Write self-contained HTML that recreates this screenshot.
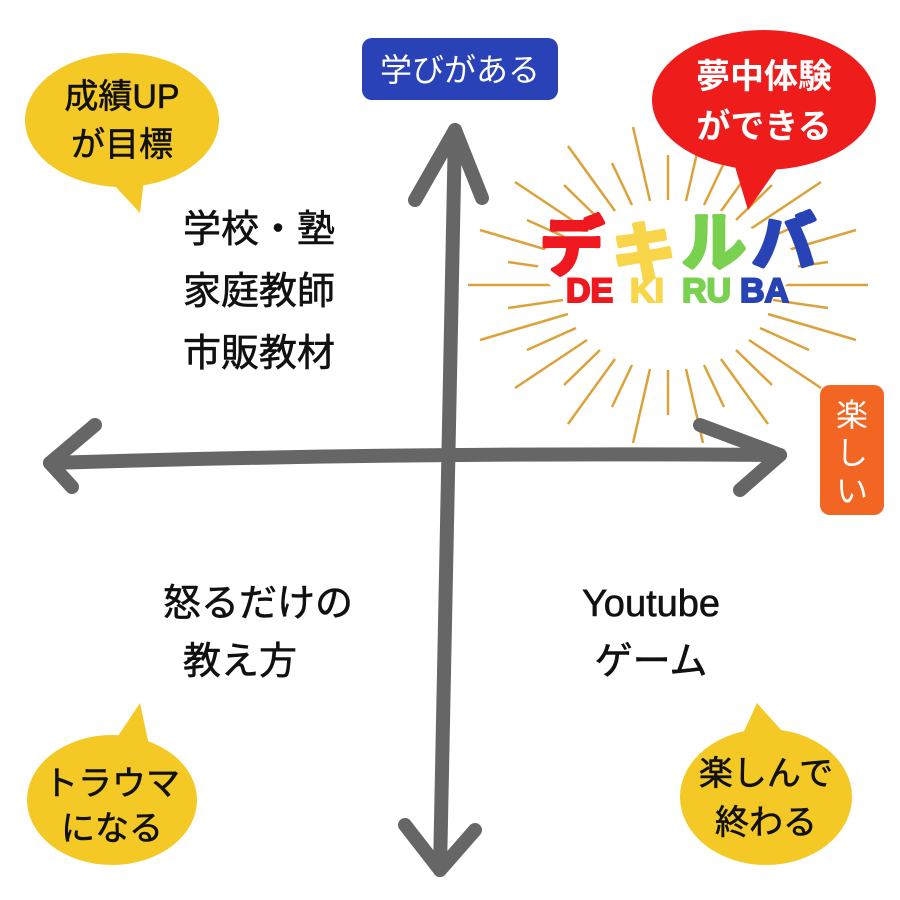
<!DOCTYPE html>
<html><head><meta charset="utf-8"><style>
body{margin:0;width:900px;height:900px;background:#fff;overflow:hidden;font-family:"Liberation Sans","Noto Sans CJK JP",sans-serif}
svg{position:absolute;left:0;top:0}
text{font-family:"Liberation Sans","Noto Sans CJK JP",sans-serif}
</style></head><body>
<svg width="900" height="900" viewBox="0 0 900 900">
<g stroke="#dca23a" stroke-width="2.5">
<line x1="774" y1="285" x2="868" y2="285"/><line x1="773" y1="300" x2="828" y2="308"/><line x1="768" y1="314" x2="856" y2="340"/><line x1="760" y1="328" x2="809" y2="350"/><line x1="749" y1="340" x2="821" y2="388"/><line x1="736" y1="350" x2="772" y2="385"/><line x1="721" y1="359" x2="768" y2="424"/><line x1="704" y1="365" x2="724" y2="407"/><line x1="686" y1="369" x2="703" y2="443"/><line x1="668" y1="370" x2="668" y2="415"/>
<line x1="562" y1="285" x2="468" y2="285"/><line x1="563" y1="300" x2="508" y2="308"/><line x1="568" y1="314" x2="480" y2="340"/><line x1="576" y1="328" x2="527" y2="350"/><line x1="587" y1="340" x2="515" y2="388"/><line x1="600" y1="350" x2="564" y2="385"/><line x1="615" y1="359" x2="568" y2="424"/><line x1="632" y1="365" x2="612" y2="407"/><line x1="650" y1="369" x2="633" y2="443"/>
<line x1="563" y1="270" x2="508" y2="262"/><line x1="568" y1="256" x2="480" y2="230"/><line x1="576" y1="242" x2="527" y2="220"/><line x1="587" y1="230" x2="515" y2="182"/><line x1="600" y1="220" x2="564" y2="185"/><line x1="615" y1="211" x2="568" y2="146"/><line x1="632" y1="205" x2="612" y2="163"/><line x1="650" y1="201" x2="633" y2="127"/><line x1="668" y1="200" x2="668" y2="155"/>
<line x1="773" y1="270" x2="828" y2="262"/><line x1="768" y1="256" x2="856" y2="230"/><line x1="760" y1="242" x2="809" y2="220"/><line x1="749" y1="230" x2="821" y2="182"/><line x1="736" y1="220" x2="772" y2="185"/><line x1="721" y1="211" x2="768" y2="146"/><line x1="704" y1="205" x2="724" y2="163"/><line x1="686" y1="201" x2="703" y2="127"/>
</g>
<ellipse cx="668" cy="265" rx="130" ry="48" fill="#fff"/>
<g font-weight="bold" font-size="64" stroke-width="4" stroke-linejoin="round">
<text x="540" y="270" fill="#f0181f" stroke="#f0181f">デ</text>
<text x="612" y="275" fill="#f9d54a" stroke="#f9d54a">キ</text>
<text x="682" y="265" fill="#7ad150" stroke="#7ad150">ル</text>
<text x="752" y="265" fill="#2743b5" stroke="#2743b5">バ</text>
</g>
<g font-weight="bold" font-size="34" stroke-width="2">
<text x="566" y="302" fill="#f0181f" stroke="#f0181f">DE</text>
<text x="630" y="302" fill="#f9d54a" stroke="#f9d54a">KI</text>
<text x="682" y="302" fill="#7ad150" stroke="#7ad150">RU</text>
<text x="740" y="302" fill="#2743b5" stroke="#2743b5">BA</text>
</g>
<g stroke="#666" stroke-width="14" stroke-linecap="round" stroke-linejoin="round" fill="none">
<path d="M50 463 Q400 452 780 455"/>
<path d="M95 425 L50 463 L72 487"/>
<path d="M700 425 L780 455 L740 490"/>
<path d="M455 130 Q448 500 440 870"/>
<path d="M415 200 L455 130 L482 198"/>
<path d="M405 825 L440 870 L475 830"/>
</g>
<g fill="#f4c926">
<ellipse cx="122" cy="120" rx="97" ry="67"/>
<path d="M100 170 L140 213 L145 170Z"/>
<ellipse cx="112" cy="800" rx="85" ry="65"/>
<path d="M112 745 L140 703 L150 750Z"/>
<ellipse cx="766" cy="797" rx="86" ry="68"/>
<path d="M740 740 L757 703 L790 740Z"/>
</g>
<g fill="#ef1c1c">
<ellipse cx="764" cy="100" rx="112" ry="70"/>
<path d="M730 150 L748 210 L790 150Z"/>
</g>
<rect x="362" y="38" width="196" height="62" rx="10" fill="#2942b8"/>
<rect x="820" y="385" width="64" height="130" rx="10" fill="#f26522"/>
<g font-size="32" text-anchor="middle">
<text x="460" y="81" fill="#fff">学びがある</text>
<text x="852" y="426" fill="#fff">楽</text>
<text x="852" y="464" fill="#fff">し</text>
<text x="852" y="502" fill="#fff">い</text>
</g>
<g font-size="34" text-anchor="middle" fill="#111" stroke="#111" stroke-width="0.6">
<text x="122" y="108">成績UP</text>
<text x="122" y="156">が目標</text>
<text x="112" y="795">トラウマ</text>
<text x="112" y="840">になる</text>
<text x="766" y="785">楽しんで</text>
<text x="766" y="834">終わる</text>
</g>
<g font-size="34" text-anchor="middle" fill="#fff" font-weight="bold">
<text x="764" y="88">夢中体験</text>
<text x="764" y="138">ができる</text>
</g>
<g font-size="38" fill="#111" stroke="#111" stroke-width="0.6" text-anchor="middle">
<text x="259" y="242">学校・塾</text>
<text x="259" y="304">家庭教師</text>
<text x="259" y="366">市販教材</text>
<text x="258" y="616">怒るだけの</text>
<text x="240" y="674">教え方</text>
<text x="651" y="616">Youtube</text>
<text x="651" y="674">ゲーム</text>
</g>
</svg>
</body></html>
